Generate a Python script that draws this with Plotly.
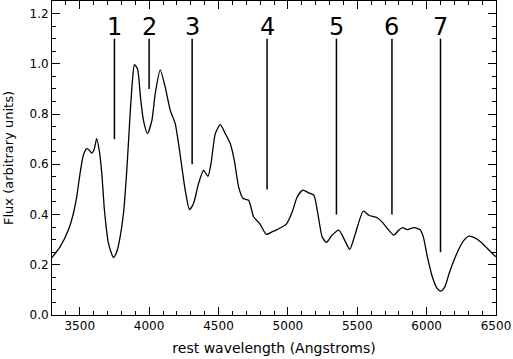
import plotly.graph_objects as go

# spectrum (rest wavelength in Angstroms, flux)
wave = [3300, 3358, 3418, 3454, 3478, 3502, 3526, 3550, 3569, 3586, 3603, 3622,
        3642, 3659, 3678, 3707, 3743, 3767, 3791, 3815, 3839, 3863, 3880, 3894,
        3916, 3940, 3959, 3988, 4020, 4044, 4080, 4116, 4152, 4188, 4212, 4236,
        4260, 4291, 4320, 4356, 4392, 4424, 4446, 4477, 4513, 4549, 4585, 4614,
        4645, 4677, 4717, 4753, 4797, 4845, 4886, 4922, 4989, 5031, 5067, 5107,
        5151, 5187, 5216, 5247, 5278, 5319, 5367, 5415, 5446, 5487, 5543, 5584,
        5644, 5692, 5716, 5764, 5800, 5825, 5861, 5909, 5952, 5976, 6005, 6041,
        6073, 6102, 6131, 6162, 6198, 6234, 6270, 6306, 6354, 6390, 6438, 6498]
flux = [0.229, 0.271, 0.338, 0.404, 0.470, 0.563, 0.636, 0.662, 0.656, 0.645, 0.658, 0.702,
        0.649, 0.563, 0.417, 0.285, 0.229, 0.252, 0.311, 0.404, 0.576, 0.800, 0.934, 0.997,
        0.980, 0.854, 0.775, 0.722, 0.775, 0.881, 0.976, 0.907, 0.815, 0.762, 0.682, 0.589,
        0.497, 0.420, 0.444, 0.523, 0.576, 0.552, 0.603, 0.722, 0.758, 0.722, 0.682, 0.616,
        0.510, 0.464, 0.457, 0.391, 0.364, 0.321, 0.331, 0.340, 0.362, 0.410, 0.470, 0.497,
        0.486, 0.477, 0.404, 0.311, 0.289, 0.318, 0.338, 0.291, 0.261, 0.325, 0.413, 0.397,
        0.387, 0.362, 0.345, 0.318, 0.338, 0.348, 0.340, 0.348, 0.340, 0.311, 0.232, 0.152,
        0.108, 0.095, 0.112, 0.165, 0.219, 0.265, 0.298, 0.314, 0.305, 0.291, 0.265, 0.232]

# numbered feature markers
feat_labels = ["1", "2", "3", "4", "5", "6", "7"]
feat_wave = [3750, 4000, 4310, 4850, 5350, 5750, 6100]
feat_bottom = [0.70, 0.90, 0.60, 0.50, 0.40, 0.40, 0.25]
feat_top = 1.10
label_y = 1.145

fig = go.Figure()
fig.add_trace(go.Scatter(x=wave, y=flux, mode="lines",
                         line=dict(color="black", width=1.3, shape="spline", smoothing=0.6),
                         showlegend=False))

mx, my = [], []
for w, b in zip(feat_wave, feat_bottom):
    mx += [w, w, None]
    my += [b, feat_top, None]
fig.add_trace(go.Scatter(x=mx, y=my, mode="lines",
                         line=dict(color="black", width=1.5), showlegend=False))

for lab, w in zip(feat_labels, feat_wave):
    fig.add_annotation(x=w, y=label_y, text=lab, showarrow=False,
                       font=dict(size=24, color="black", family="DejaVu Sans"))

axis_common = dict(showgrid=False, zeroline=False, showline=True, linecolor="black",
                   linewidth=1, mirror="ticks", ticks="inside", ticklen=8,
                   tickcolor="black", tickfont=dict(size=12, color="black"),
                   automargin=False)

fig.update_xaxes(range=[3300, 6500], dtick=500, tick0=3500,
                 minor=dict(dtick=100, ticks="inside", ticklen=4, tickcolor="black"),
                 title=dict(text="rest wavelength (Angstroms)", font=dict(size=14, color="black"),
                            standoff=10),
                 **axis_common)
fig.update_yaxes(range=[0, 1.25], dtick=0.2, tickformat=".1f",
                 minor=dict(dtick=0.05, ticks="inside", ticklen=4, tickcolor="black"),
                 title=dict(text="Flux (arbitrary units)", font=dict(size=13, color="black"),
                            standoff=12),
                 **axis_common)

fig.update_layout(width=513, height=359, margin=dict(l=52, r=17, t=1, b=44),
                  plot_bgcolor="white", paper_bgcolor="white",
                  font=dict(family="DejaVu Sans", color="black"))

fig.write_html("out.html", config={"displayModeBar": False},
               post_script="document.body.style.margin='0';")
